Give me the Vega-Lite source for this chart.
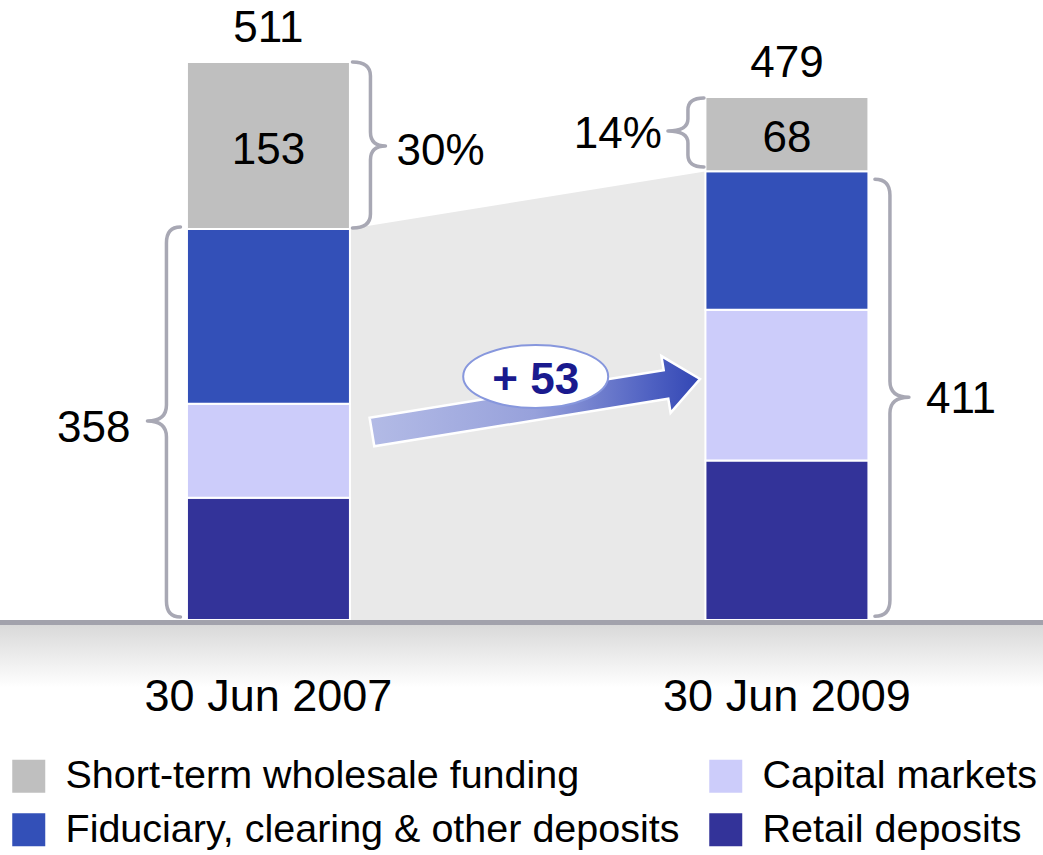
{
  "$schema": "https://vega.github.io/schema/vega-lite/v6.json",
  "width": 1043,
  "height": 620,
  "autosize": {"type": "none"},
  "padding": {"left": 0, "top": 0, "right": 0, "bottom": 235},
  "background": "#ffffff",
  "config": {"view": {"stroke": null}, "font": "Liberation Sans"},
  "datasets": {
    "funding": [
      {"date": "30 Jun 2007", "year": 2007, "series": "Retail deposits", "value": 112},
      {"date": "30 Jun 2007", "year": 2007, "series": "Capital markets", "value": 86},
      {"date": "30 Jun 2007", "year": 2007, "series": "Fiduciary, clearing & other deposits", "value": 160},
      {"date": "30 Jun 2007", "year": 2007, "series": "Short-term wholesale funding", "value": 153},
      {"date": "30 Jun 2009", "year": 2009, "series": "Retail deposits", "value": 146},
      {"date": "30 Jun 2009", "year": 2009, "series": "Capital markets", "value": 138},
      {"date": "30 Jun 2009", "year": 2009, "series": "Fiduciary, clearing & other deposits", "value": 127},
      {"date": "30 Jun 2009", "year": 2009, "series": "Short-term wholesale funding", "value": 68}
    ],
    "totals": [{"year": 2007, "date": "30 Jun 2007", "total": 511}, {"year": 2009, "date": "30 Jun 2009", "total": 479}],
    "brackets": [
      {"year": 2007, "top": 511, "part": "w07", "label": "30%"},
      {"year": 2007, "top": 358, "part": "c07", "label": "358"},
      {"year": 2009, "top": 479, "part": "w09", "label": "14%"},
      {"year": 2009, "top": 411, "part": "c09", "label": "411"}
    ],
    "connector": [{"year": 2007.31, "core": 358}, {"year": 2008.69, "core": 411}],
    "change": [{"year": 2008, "level": 220, "label": "+ 53"}]
  },
  "layer": [
    {
      "data": {"values": [{}]},
      "mark": {"type": "rect", "fill": {"gradient": "linear", "x1": 0, "y1": 0, "x2": 0, "y2": 1, "stops": [{"offset": 0, "color": "#D6D6D6"}, {"offset": 1, "color": "#FFFFFF"}]}},
      "encoding": {
        "x": {"value": 0},
        "x2": {"value": "width"},
        "y": {"datum": 0, "type": "quantitative", "scale": {"domain": [0, 567.766], "nice": false, "zero": true}, "axis": null},
        "y2": {"datum": -62}
      }
    },
    {
      "data": {"name": "connector"},
      "mark": {"type": "area", "color": "#E9E9E9", "opacity": 1},
      "encoding": {
        "x": {"field": "year", "type": "quantitative", "axis": null},
        "y": {"field": "core", "type": "quantitative", "stack": null, "axis": null}
      }
    },
    {
      "data": {"name": "funding"},
      "transform": [{"calculate": "indexof(['Retail deposits','Capital markets','Fiduciary, clearing & other deposits','Short-term wholesale funding'], datum.series)", "as": "stackRank"}],
      "mark": {"type": "bar", "width": 163, "stroke": "#FFFFFF", "strokeWidth": 2},
      "encoding": {
        "x": {
          "field": "year", "type": "quantitative",
          "scale": {"domain": [2005.98376, 2009.96848], "nice": false, "zero": false},
          "axis": null
        },
        "y": {"field": "value", "type": "quantitative", "stack": "zero", "axis": null},
        "color": {
          "field": "series", "type": "nominal",
          "scale": {"domain": ["Short-term wholesale funding", "Fiduciary, clearing & other deposits", "Capital markets", "Retail deposits"], "range": ["#BFBFBF", "#3350B8", "#CCCCFA", "#333399"]},
          "legend": {"orient": "none", "legendX": 9, "legendY": 756, "title": null, "columns": 2, "symbolType": "square", "symbolSize": 1089, "symbolStrokeWidth": 0, "symbolOpacity": 1, "labelFontSize": 39.5, "labelFont": "Liberation Sans", "labelColor": "#000000", "labelOffset": 17, "columnPadding": 26, "rowPadding": 13, "padding": 0, "labelLimit": 1000}
        },
        "order": {"field": "stackRank", "type": "quantitative"}
      }
    },
    {
      "data": {"values": [{}]},
      "mark": {"type": "rule", "color": "#A2A2AC", "strokeWidth": 5, "yOffset": 2.5},
      "encoding": {"y": {"datum": 0, "type": "quantitative", "axis": null}}
    },
    {
      "data": {"name": "totals"},
      "mark": {"type": "text", "fontSize": 45, "font": "Liberation Sans", "color": "#000000", "baseline": "alphabetic", "align": "center", "dy": 91},
      "encoding": {
        "x": {"field": "year", "type": "quantitative", "axis": null},
        "y": {"datum": 0, "type": "quantitative", "axis": null},
        "text": {"field": "date"}
      }
    },
    {
      "data": {"name": "brackets"},
      "mark": {"type": "point", "filled": false, "size": 4, "stroke": "#A8A8B4", "strokeWidth": 3.5, "opacity": 1, "strokeCap": "round", "strokeJoin": "round"},
      "encoding": {
        "x": {"field": "year", "type": "quantitative", "axis": null},
        "y": {"field": "top", "type": "quantitative", "axis": null},
        "shape": {
          "field": "part", "type": "nominal", "legend": null,
          "scale": {
            "domain": ["w07", "c07", "w09", "c09"],
            "range": [
              "M84,0 Q102,0 102,14 L102,70 Q102,84 117,84 Q102,84 102,98 L102,152 Q102,166 84,166",
              "M-88,-2 Q-102,-2 -102,14 L-102,176 Q-102,192 -121,192 Q-102,192 -102,208 L-102,372 Q-102,388 -88,388",
              "M-83,1 Q-99,1 -99,13 L-99,22 Q-99,34 -119,34 Q-99,34 -99,46 L-99,58 Q-99,70 -83,70",
              "M88,8 Q103,8 103,24 L103,210 Q103,226 122,226 Q103,226 103,242 L103,429 Q103,445 88,445"
            ]
          }
        }
      }
    },
    {
      "data": {"name": "funding"},
      "transform": [{"calculate": "indexof(['Retail deposits','Capital markets','Fiduciary, clearing & other deposits','Short-term wholesale funding'], datum.series)", "as": "stackRank"}],
      "mark": {"type": "text", "fontSize": 44, "font": "Liberation Sans", "color": "#000000", "baseline": "middle", "align": "center", "dy": 5},
      "encoding": {
        "x": {"field": "year", "type": "quantitative", "axis": null},
        "y": {"field": "value", "type": "quantitative", "stack": "zero", "bandPosition": 0.5, "axis": null},
        "detail": {"field": "series", "type": "nominal"},
        "order": {"field": "stackRank", "type": "quantitative"},
        "text": {"condition": {"test": "datum.series === 'Short-term wholesale funding'", "field": "value", "type": "quantitative"}, "value": ""}
      }
    },
    {
      "data": {"name": "totals"},
      "mark": {"type": "text", "fontSize": 44, "font": "Liberation Sans", "color": "#000000", "baseline": "alphabetic", "align": "center", "dy": -19.5},
      "encoding": {
        "x": {"field": "year", "type": "quantitative", "axis": null},
        "y": {"field": "total", "type": "quantitative", "axis": null},
        "text": {"field": "total", "type": "quantitative"}
      }
    },
    {
      "data": {"name": "brackets"},
      "transform": [{"filter": "datum.part === 'w07'"}],
      "mark": {"type": "text", "fontSize": 44, "font": "Liberation Sans", "color": "#000000", "baseline": "middle", "align": "left", "dx": 128, "dy": 90},
      "encoding": {
        "x": {"field": "year", "type": "quantitative", "axis": null},
        "y": {"field": "top", "type": "quantitative", "axis": null},
        "text": {"field": "label"}
      }
    },
    {
      "data": {"name": "brackets"},
      "transform": [{"filter": "datum.part === 'c07'"}],
      "mark": {"type": "text", "fontSize": 44, "font": "Liberation Sans", "color": "#000000", "baseline": "middle", "align": "right", "dx": -138, "dy": 200},
      "encoding": {
        "x": {"field": "year", "type": "quantitative", "axis": null},
        "y": {"field": "top", "type": "quantitative", "axis": null},
        "text": {"field": "label"}
      }
    },
    {
      "data": {"name": "brackets"},
      "transform": [{"filter": "datum.part === 'w09'"}],
      "mark": {"type": "text", "fontSize": 44, "font": "Liberation Sans", "color": "#000000", "baseline": "middle", "align": "right", "dx": -125, "dy": 38},
      "encoding": {
        "x": {"field": "year", "type": "quantitative", "axis": null},
        "y": {"field": "top", "type": "quantitative", "axis": null},
        "text": {"field": "label"}
      }
    },
    {
      "data": {"name": "brackets"},
      "transform": [{"filter": "datum.part === 'c09'"}],
      "mark": {"type": "text", "fontSize": 44, "font": "Liberation Sans", "color": "#000000", "baseline": "middle", "align": "left", "dx": 139, "dy": 229},
      "encoding": {
        "x": {"field": "year", "type": "quantitative", "axis": null},
        "y": {"field": "top", "type": "quantitative", "axis": null},
        "text": {"field": "label"}
      }
    },
    {
      "data": {"name": "change"},
      "mark": {
        "type": "point", "filled": true, "size": 4, "opacity": 1,
        "shape": "M-158.1,37.9 L136,-9.6 L133.7,-23.7 L172.3,-0.8 L142.9,33.1 L140.6,19 L-153.4,66.5 Z",
        "fill": {"gradient": "linear", "x1": 0, "y1": 0, "x2": 1, "y2": 0, "stops": [{"offset": 0, "color": "#B3BBE6"}, {"offset": 0.5, "color": "#97A1DB"}, {"offset": 0.85, "color": "#4F61C2"}, {"offset": 1, "color": "#3246B4"}]},
        "stroke": "#FFFFFF", "strokeWidth": 2.5, "strokeJoin": "miter"
      },
      "encoding": {
        "x": {"field": "year", "type": "quantitative", "axis": null},
        "y": {"field": "level", "type": "quantitative", "axis": null}
      }
    },
    {
      "data": {"name": "change"},
      "mark": {
        "type": "point", "filled": true, "size": 4, "opacity": 1,
        "shape": "M-64.5,-3.3 A72.5,31.5 0 1,0 80.5,-3.3 A72.5,31.5 0 1,0 -64.5,-3.3 Z",
        "fill": "#FFFFFF", "stroke": "#8797DD", "strokeWidth": 2
      },
      "encoding": {
        "x": {"field": "year", "type": "quantitative", "axis": null},
        "y": {"field": "level", "type": "quantitative", "axis": null}
      }
    },
    {
      "data": {"name": "change"},
      "mark": {"type": "text", "fontSize": 44, "fontWeight": "bold", "font": "Liberation Sans", "color": "#1A1A8E", "baseline": "middle", "align": "center", "dx": 8, "dy": 1},
      "encoding": {
        "x": {"field": "year", "type": "quantitative", "axis": null},
        "y": {"field": "level", "type": "quantitative", "axis": null},
        "text": {"field": "label"}
      }
    }
  ]
}
